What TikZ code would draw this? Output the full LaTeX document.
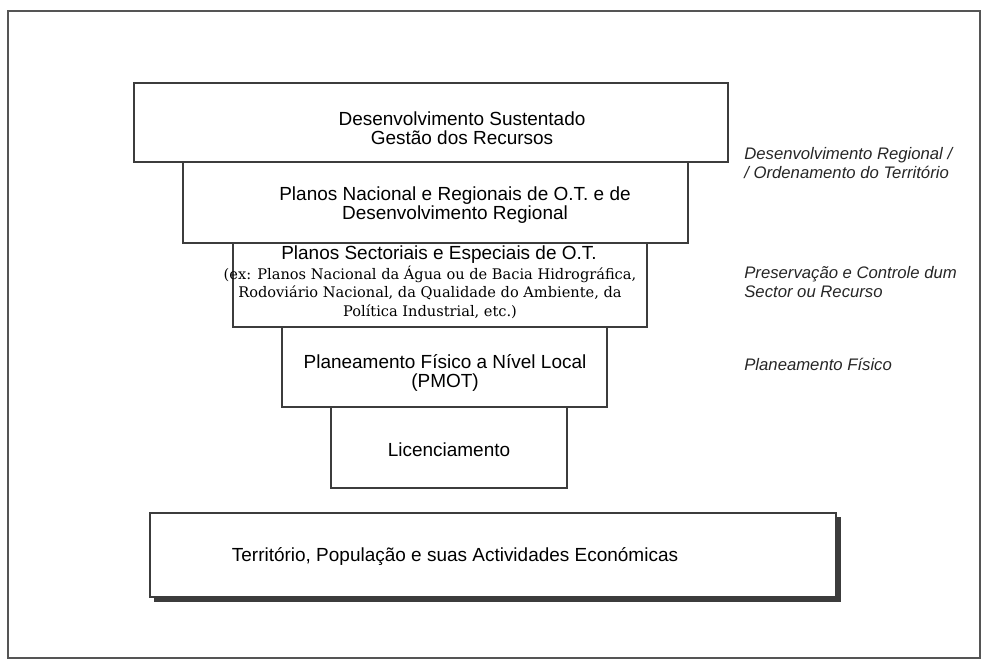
\documentclass[tikz,border=0pt]{standalone}
\usepackage{fontspec}
\setmainfont{Liberation Sans}
\newfontfamily\notefont{DejaVu Serif}
\begin{document}
\begin{tikzpicture}[x=0.2mm, y=-0.2mm,
  boxline/.style={draw=boxgray, line width=1.1pt},
  boxtext/.style={align=center, inner sep=0pt, font=\fontsize{10.8}{11}\selectfont},
  notetext/.style={align=center, inner sep=0pt, font=\notefont\fontsize{8.3}{10.5}\selectfont},
  sidetext/.style={anchor=west, align=left, inner sep=0pt, font=\itshape\fontsize{9.5}{10.3}\selectfont, text=black!85}]
        \definecolor{boxgray}{RGB}{60,60,60}
\definecolor{framegray}{RGB}{85,85,85}
\useasboundingbox (0,0) rectangle (984,662);
\draw[framegray, line width=1.1pt] (8,11) rectangle (980,658);
\draw[boxline] (134,83) rectangle (728,162);
\node[boxtext] (sustentado) at (462,128) {Desenvolvimento Sustentado\\Gestão dos Recursos};
\draw[boxline] (183,162) rectangle (688,243);
\node[boxtext] (nacional) at (455,205) {Planos Nacional e Regionais de O.T. e de\\Desenvolvimento Regional};
\draw[boxline] (233,243) rectangle (647,327);
\node[boxtext] (sectoriais) at (439,255) {Planos Sectoriais e Especiais de O.T.};
\node[notetext] (exemplos) at (430,292) {(ex: Planos Nacional da Água ou de Bacia Hidrográfica,\\Rodoviário Nacional, da Qualidade do Ambiente, da\\Política Industrial, etc.)};
\draw[boxline] (282,327) rectangle (607,407);
\node[boxtext] (pmot) at (445,373) {Planeamento Físico a Nível Local\\(PMOT)};
\draw[boxline] (331,407) rectangle (567,488);
\node[boxtext] (licenciamento) at (449,450) {Licenciamento};
\draw[boxline] (150,513) rectangle (836,597);
\draw[boxgray, line width=3pt] (838.5,517) -- (838.5,599.5) -- (154,599.5);
\node[boxtext] (territorio) at (455,557) {Território, População e suas Actividades Económicas};
\node[sidetext] (regional) at (744,163) {Desenvolvimento Regional /\\{}/ Ordenamento do Território};
\node[sidetext] (preservacao) at (744,282) {Preservação e Controle dum\\Sector ou Recurso};
\node[sidetext] (fisico) at (744,364) {Planeamento Físico};
        \end{tikzpicture}
\end{document}
